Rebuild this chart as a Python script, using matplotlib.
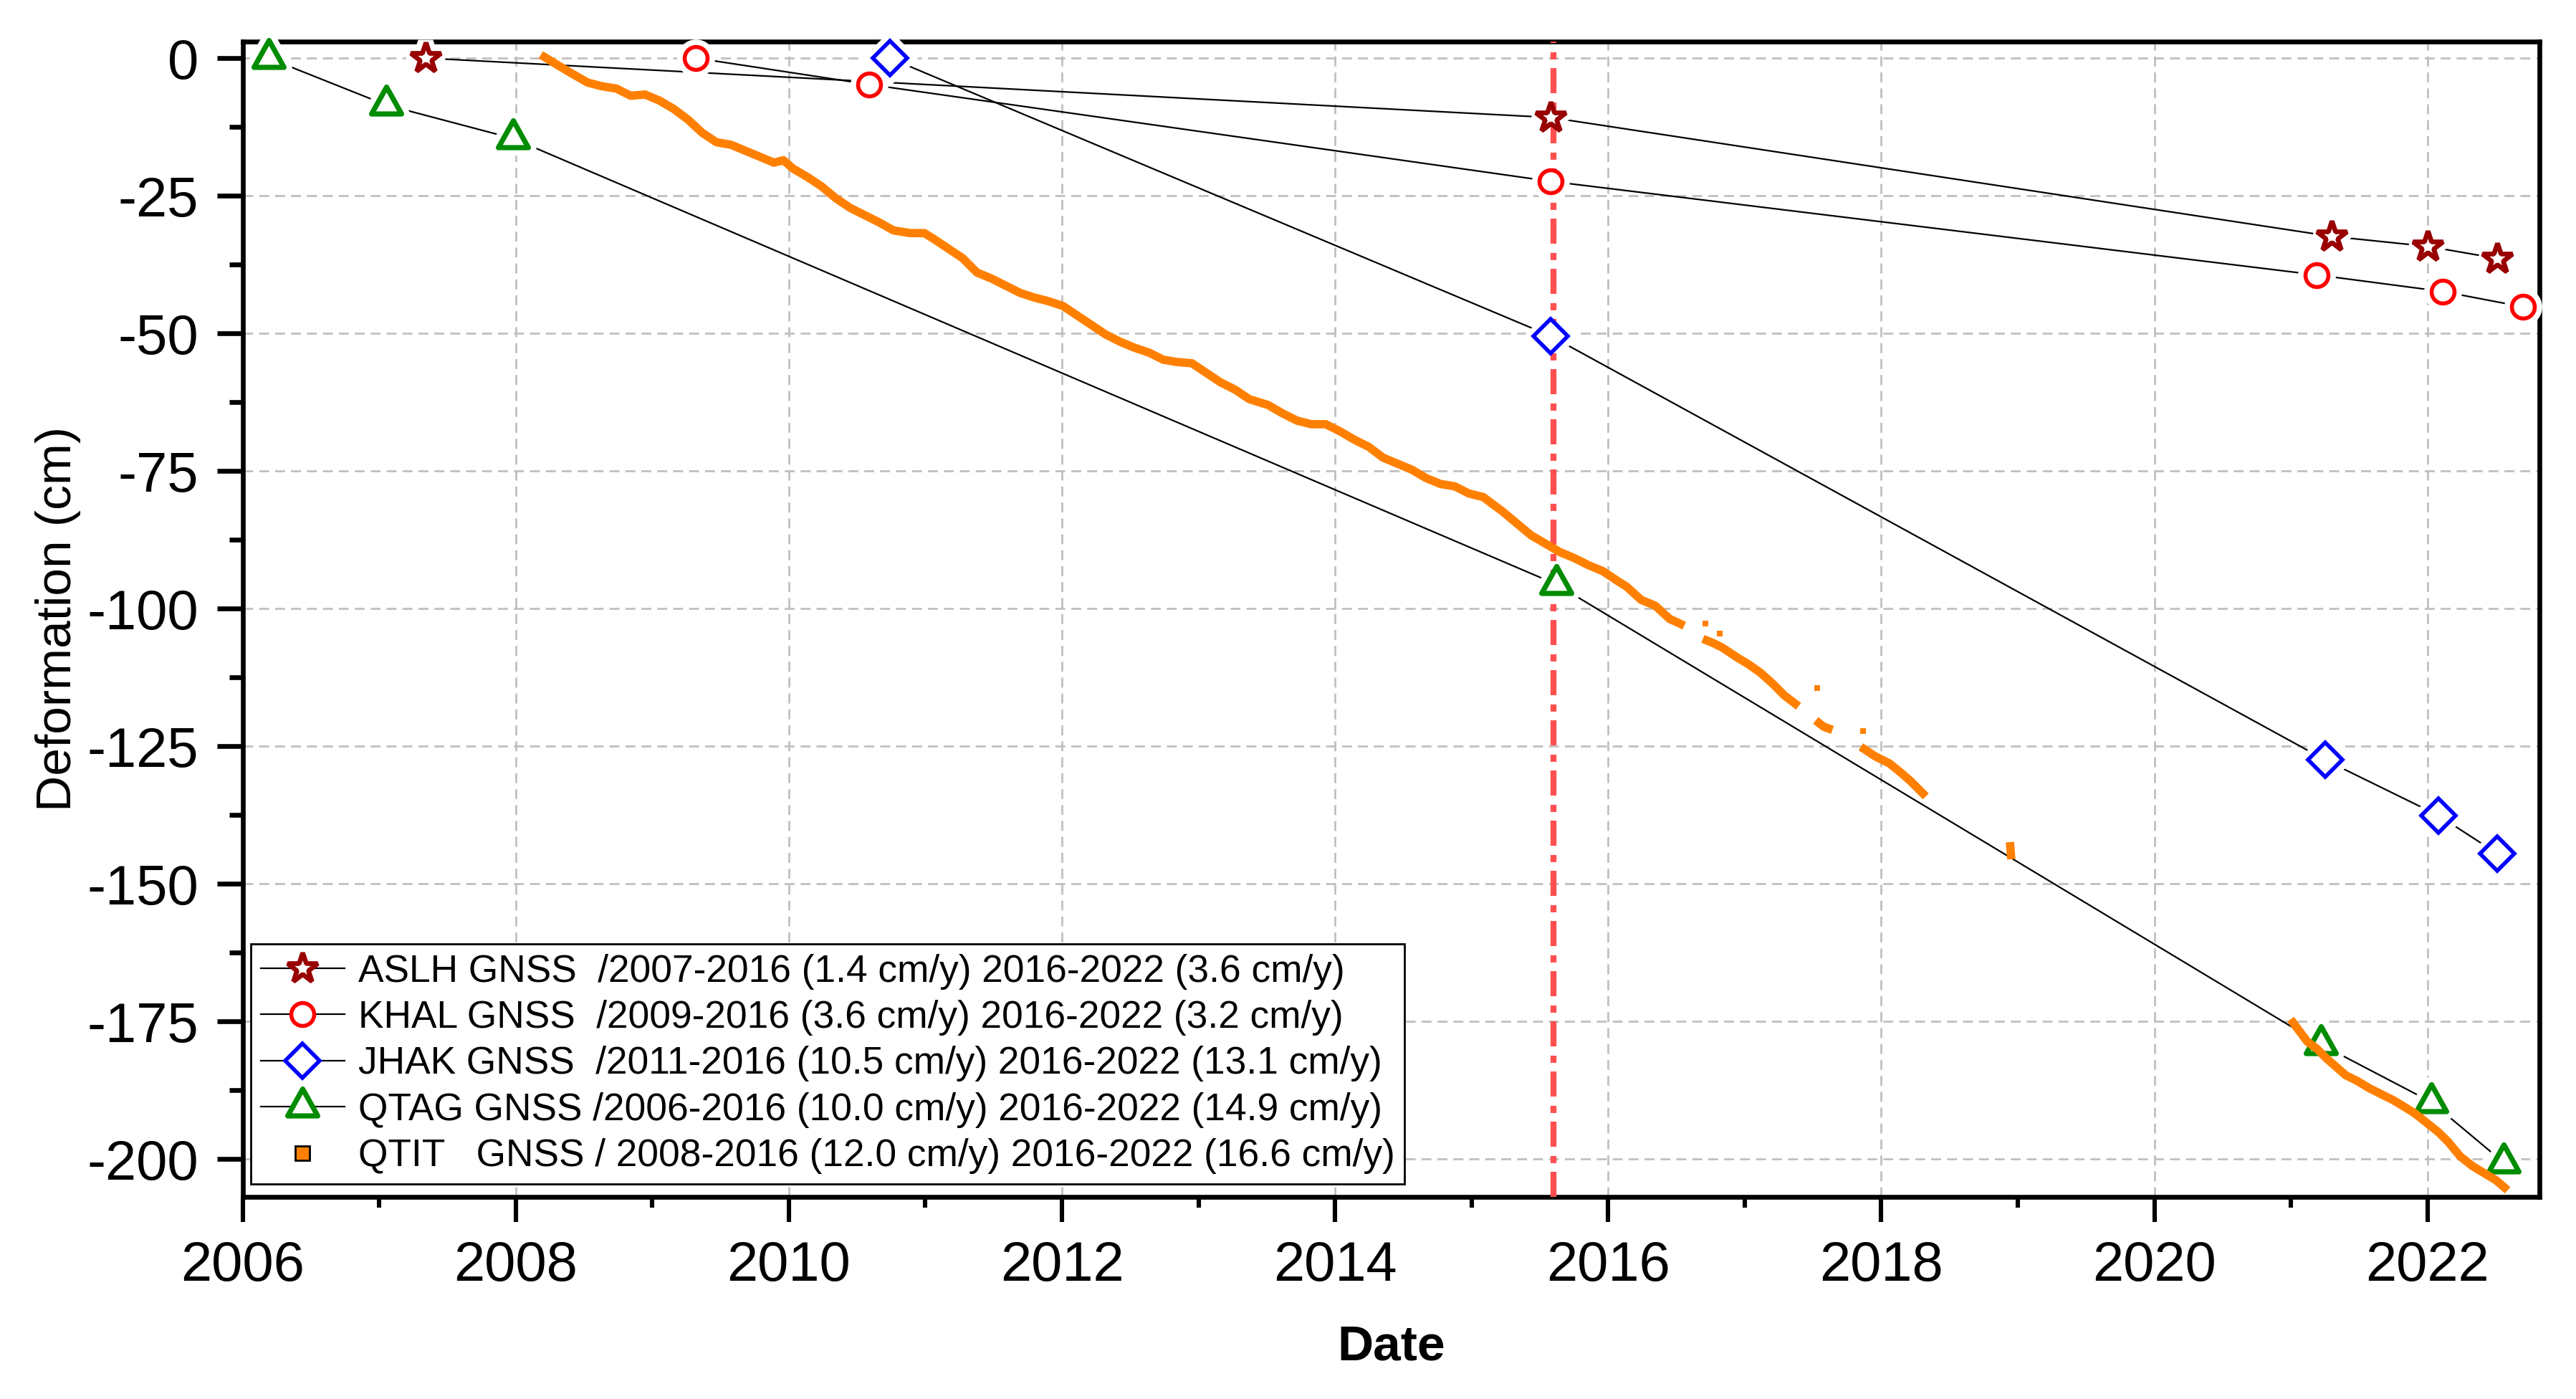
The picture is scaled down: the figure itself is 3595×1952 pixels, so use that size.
import numpy as np
import matplotlib
matplotlib.use("Agg")
import matplotlib.pyplot as plt
from matplotlib.lines import Line2D
from matplotlib.path import Path
from matplotlib.ticker import MultipleLocator

plt.rcParams['font.family'] = ['Liberation Sans', 'DejaVu Sans']
plt.rcParams['axes.unicode_minus'] = False

# GNSS campaign stations: decimal year / deformation (cm)
aslh_t = [2007.34, 2015.58, 2021.30, 2022.00, 2022.51]
aslh_d = [0.0, -10.8, -32.4, -34.2, -36.4]
khal_t = [2009.32, 2010.59, 2015.58, 2021.19, 2022.11, 2022.70]
khal_d = [0.0, -4.8, -22.4, -39.4, -42.4, -45.2]
jhak_t = [2010.74, 2015.58, 2021.25, 2022.08, 2022.51]
jhak_d = [0.0, -50.5, -127.5, -137.6, -144.5]
qtag_t = [2006.19, 2007.05, 2007.98, 2015.62, 2021.22, 2022.03, 2022.56]
qtag_d = [0.0, -8.5, -14.6, -95.6, -179.2, -189.7, -200.7]

# QTIT continuous station (nan = data gap)
qtit_t = [2008.21, 2008.317, 2008.42, 2008.527, 2008.632, 2008.737, 2008.842, 2008.947,
          2009.052, 2009.157, 2009.262, 2009.366, 2009.471, 2009.576, 2009.681, 2009.786,
          2009.891, 2009.961, 2010.031, 2010.136, 2010.241, 2010.346, 2010.451, 2010.556,
          2010.661, 2010.766, 2010.888, 2010.993, 2011.063, 2011.168, 2011.273, 2011.378,
          2011.483, 2011.588, 2011.693, 2011.798, 2011.902, 2012.007, 2012.112, 2012.217,
          2012.322, 2012.427, 2012.532, 2012.637, 2012.742, 2012.847, 2012.952, 2013.057,
          2013.162, 2013.267, 2013.372, 2013.512, 2013.617, 2013.722, 2013.827, 2013.932,
          2014.037, 2014.142, 2014.247, 2014.352, 2014.457, 2014.561, 2014.666, 2014.771,
          2014.876, 2014.981, 2015.086, 2015.156, 2015.226, 2015.331, 2015.436, 2015.541,
          2015.646, 2015.751, 2015.856, 2015.961, 2016.066, 2016.136, 2016.241, 2016.346,
          2016.451, 2016.53, np.nan,
          2016.713, np.nan, 2016.815, np.nan,
          2016.722, 2016.766, 2016.836, 2016.941, 2017.028, 2017.115, 2017.203, 2017.29,
          2017.37, np.nan,
          2017.532, np.nan, 2017.544, 2017.58, 2017.614, np.nan, 2017.868, np.nan,
          2017.876, 2017.955, 2018.06, 2018.147, 2018.217, 2018.305, np.nan,
          2018.945, 2018.95, np.nan,
          2021.016, 2021.068, 2021.121, 2021.191, 2021.261, 2021.331, 2021.401, 2021.488,
          2021.576, 2021.663, 2021.751, 2021.838, 2021.908, 2021.996, 2022.083, 2022.153,
          2022.24, 2022.328, 2022.415, 2022.503, 2022.564]
qtit_d = [0.2, -1.42, -2.93, -4.45, -5.12, -5.54, -6.84, -6.62,
          -7.71, -9.23, -11.18, -13.57, -15.30, -15.74, -16.82, -17.91,
          -19.0, -18.56, -20.08, -21.6, -23.33, -25.5, -27.24, -28.54,
          -29.84, -31.3, -31.8, -31.8, -32.88, -34.62, -36.35, -38.96,
          -40.04, -41.34, -42.65, -43.51, -44.17, -45.03, -46.77, -48.51,
          -50.24, -51.54, -52.63, -53.5, -54.8, -55.23, -55.45, -57.19,
          -58.92, -60.22, -61.96, -63.05, -64.57, -65.87, -66.52, -66.52,
          -67.82, -69.34, -70.64, -72.60, -73.68, -74.77, -76.29, -77.37,
          -77.80, -79.11, -79.76, -81.06, -82.36, -84.53, -86.70, -88.22,
          -89.74, -90.83, -92.13, -93.21, -94.95, -96.04, -98.42, -99.51,
          -101.9, -102.8, np.nan,
          -102.7, np.nan, -104.6, np.nan,
          -105.8, -106.24, -107.1, -108.84, -110.14, -111.66, -113.61, -115.78,
          -117.3, np.nan,
          -114.5, np.nan, -120.8, -121.5, -121.8, np.nan, -122.2, np.nan,
          -125.55, -126.85, -128.15, -129.89, -131.41, -133.6, np.nan,
          -143.2, -144.8, np.nan,
          -175.24, -176.98, -178.71, -180.01, -181.75, -183.27, -184.79, -185.87,
          -187.18, -188.26, -189.35, -190.65, -191.73, -193.47, -195.2, -196.94,
          -199.55, -201.28, -202.58, -203.89, -205.2]

labels = ["ASLH GNSS  /2007-2016 (1.4 cm/y) 2016-2022 (3.6 cm/y)",
          "KHAL GNSS  /2009-2016 (3.6 cm/y) 2016-2022 (3.2 cm/y)",
          "JHAK GNSS  /2011-2016 (10.5 cm/y) 2016-2022 (13.1 cm/y)",
          "QTAG GNSS /2006-2016 (10.0 cm/y) 2016-2022 (14.9 cm/y)",
          "QTIT   GNSS / 2008-2016 (12.0 cm/y) 2016-2022 (16.6 cm/y)"]

split_year = 2015.60

# triangle with its centroid on the data point (like Origin)
tri = Path([(0, 2 / 3), (-0.5576, -1 / 3), (0.5576, -1 / 3), (0, 2 / 3)],
           [Path.MOVETO, Path.LINETO, Path.LINETO, Path.CLOSEPOLY])

styles = [
    (aslh_t, aslh_d, '*', 16, '#990000', 2.4),
    (khal_t, khal_d, 'o', 11.5, '#FF0000', 2.0),
    (jhak_t, jhak_d, 'D', 12, '#0000FF', 2.0),
    (qtag_t, qtag_d, tri, 18, '#008C00', 2.6),
]

fig = plt.figure(figsize=(17.975, 9.76), dpi=200)
ax = fig.add_axes([0.09416, 0.14447, 0.89165, 0.82582])

handles = []
for t, d, m, ms, c, mew in styles:
    ax.plot(t, d, '-', color='k', lw=0.8, zorder=2)
    # white halo -> gap in the line around the marker
    ax.plot(t, d, ls='none', marker=m, ms=ms, mfc='white', mec='white',
            mew=mew + 5.5, zorder=3, clip_on=False)
    ax.plot(t, d, ls='none', marker=m, ms=ms, mfc='white', mec=c,
            mew=mew, zorder=5, clip_on=False)
    handles.append(Line2D([], [], color='k', lw=0.8, marker=m, ms=ms,
                          mfc='white', mec=c, mew=mew))

ax.axvline(split_year, color='#FF4F4F', lw=3, ls=(0, (4.2, 1.45, 1.2, 1.55)), zorder=4)

ax.plot(qtit_t, qtit_d, color='#FF8000', lw=4.2, zorder=6)
ax.plot(qtit_t, qtit_d, ls='none', marker='s', ms=2.6, mew=0, color='#FF8000', zorder=6)
handles.append(Line2D([], [], ls='none', marker='s', ms=7.5, mfc='#FF8000', mec='k', mew=1.0))

ax.set_xlim(2006, 2022.82)
ax.set_ylim(-206.9, 3.0)
ax.xaxis.set_major_locator(MultipleLocator(2))
ax.xaxis.set_minor_locator(MultipleLocator(1))
ax.yaxis.set_major_locator(MultipleLocator(25))
ax.yaxis.set_minor_locator(MultipleLocator(12.5))

ax.set_axisbelow(True)
ax.grid(True, which='major', color='#C0C0C0', lw=1.0, ls=(0, (5, 3)))

for s in ax.spines.values():
    s.set_linewidth(2.4)

ax.tick_params(axis='x', which='major', direction='out', length=12.6, width=2.2,
               labelsize=28, pad=9)
ax.tick_params(axis='x', which='minor', direction='out', length=5.5, width=2.2)
ax.tick_params(axis='y', which='major', direction='out', length=13, width=2.4,
               labelsize=28, pad=9)
ax.tick_params(axis='y', which='minor', direction='out', length=7, width=2.4)

ax.set_ylabel('Deformation (cm)', fontsize=25, labelpad=3)
ax.set_xlabel('Date', fontsize=25, fontweight='bold', labelpad=16)

leg = ax.legend(handles, labels, loc='lower left', bbox_to_anchor=(0.0037, 0.0114),
                fontsize=19.2, frameon=True, fancybox=False, edgecolor='k', framealpha=1,
                borderpad=0.25, labelspacing=0.27, handlelength=2.2,
                handletextpad=0.35, borderaxespad=0)
leg.get_frame().set_linewidth(1.0)
leg.set_zorder(10)

fig.savefig('out.png', dpi=200)
